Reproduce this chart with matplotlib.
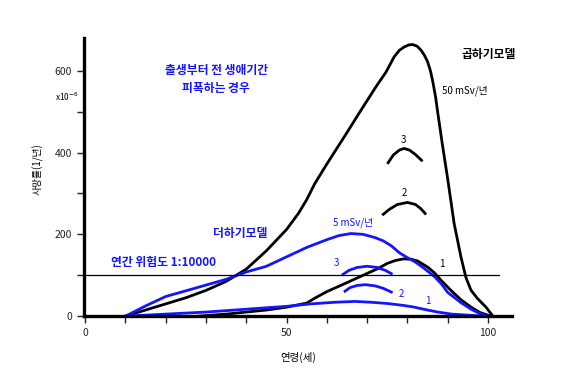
import matplotlib
matplotlib.use('Agg')
import matplotlib.pyplot as plt

plt.rcParams['font.family'] = ['Noto Sans CJK KR', 'DejaVu Sans']

BLUE = '#1414ff'

# 곱하기모델 50 mSv/년
mult50_age = [10, 15, 20, 25, 30, 35, 40, 45, 50, 53, 55, 57, 60, 65, 68.5, 72.2, 74.7, 76.7, 78, 79.2, 80.3, 81.3,
              82.4, 83.4, 84.2, 85, 85.7, 86.3, 87, 87.5, 88.7, 90, 91.6, 93.3, 94.5, 95.8, 97.4, 99.5, 101.2]
mult50_val = [0, 15, 30, 45, 63, 85, 115, 160, 212, 252, 285, 324, 372, 449, 504, 561, 597, 634, 650, 658, 663, 664,
              660, 650, 638, 622, 600, 573, 535, 499, 418, 335, 226, 144, 95, 63, 43, 22, 0]

# 더하기모델 5 mSv/년
add5_age = [10, 15, 20, 25, 30, 35, 40, 45, 50, 55, 60, 63, 66, 69, 72, 74, 76, 78, 80, 82, 84, 86.7, 88.5, 90, 93.3, 95.8, 98, 100]
add5_val = [0, 25, 48, 62, 76, 90, 108, 122, 145, 168, 187, 197, 202, 200, 192, 184, 172, 155, 143, 132, 118, 97, 78, 58, 33, 17, 6, 0]

# 곱하기모델 곡선 1
mult1_age = [28, 35, 40, 45, 50, 55, 57, 60, 65, 69, 72.6, 75, 77, 79, 81, 82.5, 85, 86.7, 88.5, 90.8, 93.3, 95.8, 98, 100.7]
mult1_val = [0, 5, 10, 15, 22, 32, 44, 60, 82, 100, 116, 129, 136, 140, 139, 135, 120, 106, 86, 63, 40, 22, 9, 0]

# 더하기모델 곡선 1
add1_age = [10, 20, 30, 40, 50, 56, 62, 67, 71, 75, 79.2, 81.7, 84, 87.5, 91, 95.8, 98, 100]
add1_val = [0, 5, 10, 17, 24, 30, 34, 36, 34, 31, 26, 22, 17, 10, 5, 2, 0.5, 0]

# 짧은 호 (2, 3)
arc_b3_age = [75.2, 76.5, 78, 79.2, 80.5, 82, 83.5]
arc_b3_val = [375, 394, 406, 410, 406, 395, 381]
arc_b2_age = [74, 75.5, 77.5, 80, 82, 83.3, 84.4]
arc_b2_val = [249, 261, 273, 278, 273, 263, 251]
arc_u3_age = [64, 65.5, 67.5, 70, 72.5, 74.5, 76]
arc_u3_val = [102, 112, 119, 122, 119, 112, 104]
arc_u2_age = [64.5, 65.8, 67.5, 69.5, 72, 74, 76]
arc_u2_val = [61, 70, 75, 77, 74, 68, 59]

risk_level = 100

fig = plt.figure(figsize=(5.71, 3.8), dpi=100)
ax = fig.add_axes([0.147, 0.168, 0.75, 0.732])

for xs, ys in [(mult50_age, mult50_val), (mult1_age, mult1_val), (arc_b3_age, arc_b3_val), (arc_b2_age, arc_b2_val)]:
    ax.plot(xs, ys, color='black', lw=2, solid_joinstyle='round')
for xs, ys in [(add5_age, add5_val), (add1_age, add1_val), (arc_u3_age, arc_u3_val), (arc_u2_age, arc_u2_val)]:
    ax.plot(xs, ys, color=BLUE, lw=2, solid_joinstyle='round')
ax.axhline(risk_level, color='black', lw=0.9, xmax=0.97)

ax.set_xlim(-0.3, 106)
ax.set_ylim(0, 680)

for s in ['top', 'right']:
    ax.spines[s].set_visible(False)
ax.spines['left'].set_linewidth(2.4)
ax.spines['bottom'].set_linewidth(2.4)

ax.set_xticks([0, 50, 100])
ax.set_xticks(range(10, 100, 10), minor=True)
ax.set_yticks([0, 200, 400, 600])
ax.set_yticks([100, 300, 500], minor=True)
ax.tick_params(which='both', direction='out', length=5, width=1, labelsize=7.5, colors='#222222')

ax.set_xlabel('연령(세)', fontsize=7.5, labelpad=10)
ax.set_ylabel('사망률(1/년)', fontsize=7)
ax.yaxis.set_label_coords(-0.095, 0.53)
fig.text(0.096, 0.745, 'x10$^{-6}$', fontsize=6, ha='left', va='center')

# 텍스트 라벨
ax.text(32.5, 579, '출생부터 전 생애기간\n피폭하는 경우', color=BLUE, fontsize=8.5,
        fontweight='bold', ha='center', va='center', linespacing=1.5)
ax.text(93.3, 640, '곱하기모델', fontsize=8.5, fontweight='bold', ha='left', va='center')
ax.text(88.7, 552, '50 mSv/년', fontsize=7, ha='left', va='center')
ax.text(61.5, 228, '5 mSv/년', fontsize=7, color=BLUE, ha='left', va='center')
ax.text(31.8, 202, '더하기모델', fontsize=8.5, fontweight='bold', color=BLUE, ha='left', va='center')
ax.text(6.5, 132, '연간 위험도 1:10000', fontsize=8.5, fontweight='bold', color=BLUE, ha='left', va='center')

ax.text(79, 430, '3', fontsize=7, ha='center', va='center')
ax.text(79.2, 300, '2', fontsize=7, ha='center', va='center')
ax.text(88.5, 128, '1', fontsize=7, ha='center', va='center')
ax.text(62.3, 129, '3', fontsize=7, color=BLUE, ha='center', va='center')
ax.text(78.4, 55, '2', fontsize=7, color=BLUE, ha='center', va='center')
ax.text(85, 37, '1', fontsize=7, color=BLUE, ha='center', va='center')

fig.savefig('out.png', dpi=100)
